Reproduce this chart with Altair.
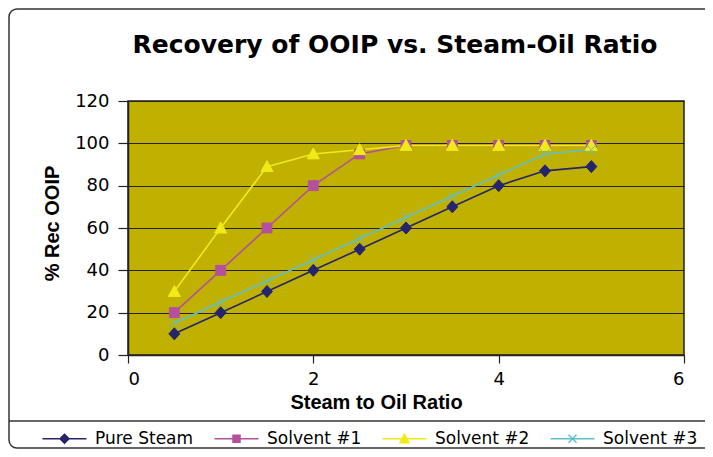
import altair as alt
import pandas as pd

# ---- data ----
x_vals = [0.5, 1.0, 1.5, 2.0, 2.5, 3.0, 3.5, 4.0, 4.5, 5.0]
series_names = ["Pure Steam", "Solvent #1", "Solvent #2", "Solvent #3"]
pure_steam = [10, 20, 30, 40, 50, 60, 70, 80, 87, 89]
solvent_1 = [20, 40, 60, 80, 95, 99, 99, 99, 99, 99]
solvent_2 = [30, 60, 89, 95, 97, 99, 99, 99, 99, 99]
solvent_3 = [15, 25, 35, 45, 55, 65, 75, 85, 95, 97]
y_ticks = [0, 20, 40, 60, 80, 100, 120]
x_ticks = [0, 2, 4, 6]
title_text = "Recovery of OOIP vs. Steam-Oil Ratio"
x_title = "Steam to Oil Ratio"
y_title = "% Rec OOIP"

# ---- styles ----
colors = ["#25246E", "#B4509E", "#F2EA17", "#5EC0CB"]
plot_paths = [
    "M0,-1.1L1,0L0,1.1L-1,0Z",
    "M-0.9,-0.9H0.9V0.9H-0.9Z",
    "M0,-1.1L1.1,0.9L-1.1,0.9Z",
    "M-1,-1L1,1M-1,1L1,-1",
]
legend_paths = [
    "M-4.4,0H4.4M0,-0.9L0.9,0L0,0.9L-0.9,0Z",
    "M-4.4,0H4.4M-0.7,-0.7H0.7V0.7H-0.7Z",
    "M-4.4,0H4.4M0,-0.9L0.9,0.8L-0.9,0.8Z",
    "M-4.4,0H4.4M-0.8,-0.8L0.8,0.8M-0.8,0.8L0.8,-0.8",
]

rows = []
for name, vals in zip(series_names, [pure_steam, solvent_1, solvent_2, solvent_3]):
    for xv, yv in zip(x_vals, vals):
        rows.append({"ratio": xv, "rec": yv, "series": name})
df = pd.DataFrame(rows)

cscale = alt.Scale(domain=series_names, range=colors)

x_enc = alt.X(
    "ratio:Q",
    scale=alt.Scale(domain=[0, 6], nice=False, zero=False),
    axis=alt.Axis(values=x_ticks, title=x_title, grid=False, tickSize=8,
                  labelPadding=7, format="d", titleX=248, titleY=53,
                  titleBaseline="alphabetic", titleAlign="center"),
)
y_enc = alt.Y(
    "rec:Q",
    scale=alt.Scale(domain=[0, 120], nice=False),
    axis=alt.Axis(values=y_ticks, title=y_title, grid=True, tickSize=10,
                  labelPadding=9, titleX=-76, titleY=122, titleAngle=270,
                  titleBaseline="middle", titleAlign="center"),
)

lines = alt.Chart(df).mark_line(strokeWidth=1.6).encode(
    x=x_enc, y=y_enc,
    color=alt.Color("series:N", scale=cscale, legend=None),
)

points = alt.Chart(df).mark_point(filled=True, size=120, strokeWidth=1, opacity=1).encode(
    x=x_enc, y=y_enc,
    fill=alt.Fill("series:N", scale=cscale, legend=None),
    stroke=alt.Stroke("series:N", scale=cscale, legend=None),
    shape=alt.Shape("series:N", scale=alt.Scale(domain=series_names, range=plot_paths), legend=None),
)

leg = alt.Legend(
    title=None, orient="none", legendX=-72, legendY=329, direction="horizontal",
    columns=4, columnPadding=17, labelOffset=22, symbolSize=100,
    symbolStrokeWidth=1.5, labelFont="DejaVu Sans", labelFontSize=17,
    labelColor="black", padding=0, symbolOpacity=1,
)

legend_layer = alt.Chart(df).transform_filter("false").mark_point(
    filled=True, size=100, strokeWidth=1.5, opacity=1
).encode(
    x=x_enc, y=y_enc,
    fill=alt.Fill("series:N", scale=cscale, legend=leg),
    stroke=alt.Stroke("series:N", scale=cscale, legend=leg),
    shape=alt.Shape("series:N", scale=alt.Scale(domain=series_names, range=legend_paths), legend=leg),
)

deco = pd.DataFrame({"k": [0]})
frame = alt.Chart(deco).mark_rect(
    fillOpacity=0, stroke="#333333", strokeWidth=1.5, cornerRadius=8
).encode(x=alt.value(-119), x2=alt.value(640), y=alt.value(-92), y2=alt.value(347))

separator = alt.Chart(deco).mark_rule(color="#333333", strokeWidth=1.5).encode(
    x=alt.value(-119), x2=alt.value(640), y=alt.value(320)
)

title = alt.Chart(deco).mark_text(
    font="DejaVu Sans", fontSize=25, fontWeight="bold", align="center",
    baseline="alphabetic", color="black"
).encode(x=alt.value(267), y=alt.value(-48), text=alt.value(title_text))

chart = alt.layer(frame, separator, title, lines, points, legend_layer).resolve_scale(
    color="independent", fill="independent", stroke="independent", shape="independent"
).properties(
    width=556, height=254,
    autosize=alt.AutoSizeParams(type="none"),
    padding={"left": 120, "top": 93, "right": 21, "bottom": 94},
).configure_view(
    fill="#C0B000", stroke="#222222", strokeWidth=1.5
).configure_axis(
    labelFont="DejaVu Sans", labelFontSize=18, labelColor="black",
    titleFont="Liberation Sans", titleFontSize=20, titleFontWeight="bold",
    titleColor="black", domainColor="#222222", domainWidth=1.5,
    tickColor="#222222", tickWidth=1.2, gridColor="#222222", gridWidth=1.2,
)

chart.save("out.html", embed_options={"renderer": "svg", "actions": False})
